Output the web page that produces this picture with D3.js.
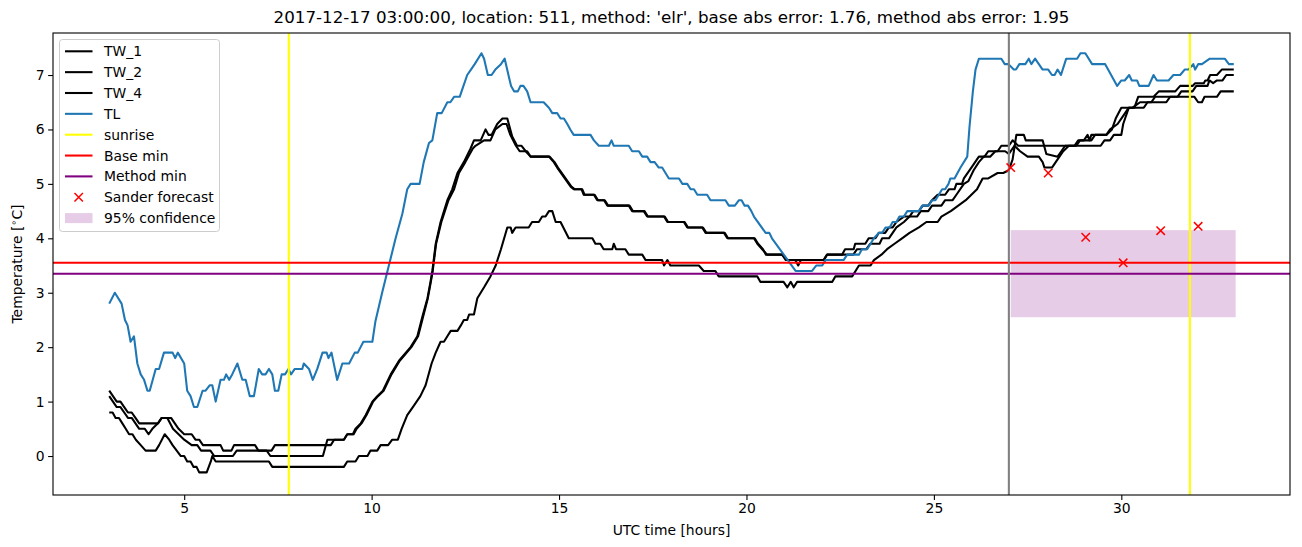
<!DOCTYPE html>
<html><head><meta charset="utf-8">
<script src="https://cdn.jsdelivr.net/npm/d3@7"></script>
<style>body{margin:0;background:#fff}svg{display:block}text{font-family:"DejaVu Sans",sans-serif;fill:#000}</style>
</head><body><svg id="c" width="1302" height="547"></svg>
<script>
const titleText = "2017-12-17 03:00:00, location: 511, method: 'elr', base abs error: 1.76, method abs error: 1.95";
const xTicks = [5,10,15,20,25,30];
const yTicks = [0,1,2,3,4,5,6,7];
const TW_1 = [[3.0,1.2],[3.1,1.1],[3.2,1.0],[3.3,1.0],[3.4,0.9],[3.5,0.8],[3.6,0.8],[3.7,0.7],[3.8,0.6],[4.3,0.6],[4.4,0.7],[4.65,0.7],[4.75,0.6],[4.85,0.5],[5.0,0.4],[5.2,0.4],[5.3,0.3],[5.4,0.3],[5.5,0.2],[5.97,0.2],[6.04,0.1],[6.26,0.1],[6.33,0.2],[6.89,0.2],[6.98,0.1],[7.33,0.1],[7.42,0.2],[8.91,0.2],[9.0,0.3],[9.26,0.3],[9.35,0.4],[9.5,0.4],[9.57,0.5],[9.71,0.6],[9.84,0.75],[10.02,1.0],[10.15,1.1],[10.3,1.2],[10.51,1.5],[10.73,1.75],[11.04,2.0],[11.22,2.2],[11.35,2.55],[11.49,2.9],[11.57,3.2],[11.62,3.4],[11.71,3.9],[11.84,4.3],[12.02,4.7],[12.15,4.9],[12.29,5.2],[12.46,5.4],[12.64,5.65],[12.73,5.8],[12.91,5.8],[13.04,6.0],[13.12,5.9],[13.2,5.9],[13.35,6.1],[13.49,6.2],[13.62,6.2],[13.75,5.87],[13.88,5.7],[14.0,5.7],[14.11,5.6],[14.24,5.5],[14.73,5.5],[14.86,5.4],[14.95,5.3],[15.31,4.95],[15.4,4.9],[15.6,4.9],[15.66,4.8],[15.93,4.8],[16.02,4.7],[16.2,4.7],[16.29,4.6],[16.86,4.6],[16.95,4.5],[17.26,4.5],[17.35,4.4],[17.8,4.4],[17.89,4.3],[18.33,4.3],[18.42,4.2],[18.82,4.2],[18.91,4.1],[19.4,4.1],[19.49,4.0],[20.2,4.0],[20.29,3.9],[20.42,3.8],[20.55,3.7],[20.95,3.7],[21.09,3.6],[22.06,3.6],[22.15,3.7],[22.55,3.7],[22.63,3.8],[22.86,3.8],[22.9,3.9],[23.17,3.9],[23.26,4.0],[23.44,4.0],[23.53,4.1],[23.7,4.1],[23.8,4.2],[23.9,4.2],[24.0,4.3],[24.2,4.4],[24.35,4.4],[24.45,4.5],[24.6,4.5],[24.7,4.6],[24.85,4.6],[24.95,4.7],[25.1,4.8],[25.3,4.8],[25.4,4.9],[25.55,4.9],[25.6,5.0],[25.75,5.0],[25.8,5.1],[26.0,5.3],[26.1,5.4],[26.2,5.5],[26.35,5.5],[26.45,5.6],[26.7,5.6],[26.8,5.7],[27.0,5.7],[27.1,5.8],[27.25,5.7],[29.45,5.7],[29.55,5.8],[29.7,5.8],[29.8,5.9],[30.0,5.9],[30.05,6.1],[30.2,6.4],[30.35,6.4],[30.45,6.6],[30.86,6.6],[31.0,6.7],[31.44,6.7],[31.57,6.8],[31.9,6.8],[31.97,6.85],[32.2,6.85],[32.24,6.9],[32.3,6.9],[32.37,7.0],[32.55,7.0],[32.68,7.1],[33.0,7.1]];
const TW_2 = [[3.0,1.1],[3.1,1.0],[3.2,0.9],[3.3,0.9],[3.4,0.8],[3.5,0.7],[3.6,0.7],[3.7,0.6],[3.8,0.5],[3.95,0.5],[4.05,0.4],[4.15,0.5],[4.3,0.6],[4.4,0.7],[4.55,0.7],[4.7,0.5],[4.85,0.4],[5.0,0.3],[5.2,0.2],[5.35,0.2],[5.45,0.1],[5.7,0.1],[5.8,0.0],[6.3,0.0],[6.4,0.1],[7.2,0.1],[7.3,0.0],[8.7,0.0],[8.82,0.3],[9.26,0.3],[9.35,0.4],[9.52,0.4],[9.6,0.5],[9.73,0.6],[9.86,0.75],[10.04,1.0],[10.17,1.1],[10.32,1.2],[10.53,1.5],[10.75,1.75],[11.06,2.0],[11.24,2.2],[11.37,2.55],[11.5,2.9],[11.58,3.2],[11.63,3.4],[11.72,3.9],[11.86,4.3],[12.05,4.7],[12.2,4.9],[12.33,5.2],[12.5,5.4],[12.7,5.65],[12.77,5.7],[13.0,5.8],[13.17,5.8],[13.3,6.0],[13.49,6.1],[13.6,6.1],[13.7,5.9],[13.85,5.7],[13.95,5.6],[14.15,5.6],[14.24,5.5],[14.75,5.5],[14.88,5.4],[14.97,5.3],[15.33,4.95],[15.42,4.9],[15.62,4.9],[15.68,4.8],[15.95,4.8],[16.04,4.7],[16.22,4.7],[16.31,4.6],[16.88,4.6],[16.97,4.5],[17.28,4.5],[17.37,4.4],[17.82,4.4],[17.91,4.3],[18.35,4.3],[18.44,4.2],[18.84,4.2],[18.93,4.1],[19.42,4.1],[19.51,4.0],[20.22,4.0],[20.31,3.9],[20.44,3.8],[20.52,3.7],[20.95,3.7],[21.05,3.6],[21.3,3.6],[21.38,3.5],[21.45,3.6],[22.06,3.6],[22.15,3.7],[22.85,3.7],[22.95,3.8],[23.2,3.8],[23.3,3.9],[23.55,3.9],[23.62,4.0],[23.8,4.0],[23.9,4.1],[24.0,4.2],[24.2,4.3],[24.35,4.4],[24.55,4.4],[24.65,4.5],[24.85,4.5],[24.95,4.6],[25.2,4.6],[25.3,4.7],[25.5,4.7],[25.6,4.8],[25.8,5.0],[25.92,5.05],[26.06,5.25],[26.2,5.4],[26.33,5.5],[26.5,5.5],[26.64,5.6],[26.9,5.6],[27.0,5.55],[27.15,5.7],[27.3,5.6],[27.5,5.5],[27.8,5.5],[27.9,5.4],[27.95,5.3],[28.15,5.3],[28.25,5.4],[28.35,5.5],[28.45,5.6],[28.6,5.7],[28.8,5.7],[28.9,5.8],[29.2,5.8],[29.3,5.9],[29.6,5.9],[29.7,6.0],[29.9,6.1],[30.0,6.2],[30.1,6.3],[30.2,6.4],[30.6,6.4],[30.7,6.5],[31.2,6.5],[31.3,6.6],[31.5,6.6],[31.6,6.7],[31.9,6.7],[32.0,6.8],[32.3,6.8],[32.35,6.9],[32.45,6.85],[32.55,6.9],[32.7,6.9],[32.8,7.0],[33.0,7.0]];
const TW_4 = [[3.0,0.8],[3.09,0.8],[3.17,0.7],[3.26,0.7],[3.35,0.6],[3.44,0.5],[3.53,0.4],[3.62,0.4],[3.71,0.3],[3.84,0.2],[3.97,0.1],[4.24,0.1],[4.33,0.2],[4.48,0.4],[4.6,0.3],[4.69,0.2],[4.8,0.1],[4.91,0.0],[5.0,0.0],[5.08,-0.1],[5.17,-0.1],[5.25,-0.2],[5.33,-0.2],[5.4,-0.3],[5.6,-0.3],[5.71,-0.1],[5.75,0.0],[5.84,-0.1],[7.26,-0.1],[7.35,-0.2],[9.26,-0.2],[9.35,-0.1],[9.57,-0.1],[9.66,0.0],[9.89,0.0],[9.97,0.1],[10.15,0.1],[10.24,0.2],[10.44,0.2],[10.55,0.3],[10.7,0.3],[10.8,0.5],[10.95,0.75],[11.1,0.9],[11.3,1.1],[11.44,1.3],[11.6,1.7],[11.71,1.9],[11.84,2.1],[11.93,2.1],[12.02,2.2],[12.11,2.3],[12.29,2.3],[12.38,2.4],[12.46,2.5],[12.55,2.5],[12.6,2.6],[12.73,2.6],[12.82,2.9],[13.0,3.1],[13.17,3.3],[13.31,3.5],[13.45,3.8],[13.62,4.2],[13.71,4.2],[13.75,4.1],[13.84,4.2],[14.19,4.2],[14.28,4.3],[14.46,4.3],[14.55,4.4],[14.64,4.4],[14.73,4.5],[14.82,4.5],[14.91,4.3],[15.04,4.3],[15.26,4.0],[15.89,4.0],[15.97,3.9],[16.1,3.9],[16.19,3.8],[16.42,3.8],[16.46,3.9],[16.52,3.8],[16.77,3.8],[16.86,3.7],[17.22,3.7],[17.31,3.6],[17.75,3.6],[17.8,3.5],[17.89,3.6],[17.97,3.5],[18.73,3.5],[18.86,3.4],[19.17,3.4],[19.26,3.3],[20.29,3.3],[20.37,3.2],[20.99,3.2],[21.09,3.1],[21.18,3.2],[21.26,3.1],[21.35,3.2],[22.29,3.2],[22.37,3.3],[22.82,3.3],[22.91,3.4],[23.0,3.5],[23.31,3.5],[23.4,3.6],[23.6,3.7],[23.75,3.8],[23.95,3.9],[24.15,4.0],[24.35,4.1],[24.6,4.2],[24.8,4.3],[25.1,4.3],[25.2,4.4],[25.45,4.5],[25.65,4.6],[25.85,4.7],[26.0,4.8],[26.15,4.9],[26.3,5.1],[26.45,5.1],[26.7,5.2],[26.85,5.2],[27.0,5.25],[27.1,5.45],[27.2,5.9],[27.4,5.9],[27.45,5.8],[27.9,5.8],[28.0,5.55],[28.3,5.5],[28.4,5.6],[28.5,5.7],[28.75,5.7],[28.85,5.8],[29.0,5.8],[29.1,5.9],[29.15,5.8],[29.2,5.9],[29.6,5.9],[29.75,6.0],[29.85,6.2],[30.0,6.4],[30.3,6.4],[30.5,6.5],[30.8,6.5],[30.9,6.6],[31.95,6.6],[32.05,6.5],[32.15,6.5],[32.22,6.6],[32.55,6.6],[32.65,6.7],[33.0,6.7]];
const TL = [[3.0,2.8],[3.15,3.0],[3.33,2.8],[3.42,2.5],[3.49,2.4],[3.57,2.1],[3.66,2.2],[3.75,1.7],[3.84,1.5],[3.93,1.4],[4.02,1.2],[4.08,1.2],[4.24,1.6],[4.33,1.6],[4.46,1.9],[4.69,1.9],[4.76,1.8],[4.83,1.9],[5.0,1.7],[5.08,1.2],[5.17,1.1],[5.26,0.9],[5.35,0.9],[5.49,1.2],[5.57,1.2],[5.68,1.3],[5.75,1.3],[5.84,1.0],[5.97,1.4],[6.06,1.4],[6.12,1.5],[6.2,1.4],[6.28,1.5],[6.42,1.7],[6.55,1.4],[6.64,1.4],[6.75,1.1],[6.86,1.1],[6.99,1.6],[7.08,1.5],[7.17,1.5],[7.26,1.6],[7.35,1.5],[7.42,1.2],[7.51,1.2],[7.6,1.5],[7.69,1.5],[7.78,1.6],[7.85,1.5],[7.95,1.6],[8.15,1.6],[8.19,1.7],[8.33,1.6],[8.43,1.4],[8.55,1.6],[8.69,1.9],[8.8,1.9],[8.85,1.8],[8.93,1.9],[9.08,1.4],[9.22,1.7],[9.4,1.7],[9.55,1.9],[9.63,1.9],[9.78,2.1],[10.02,2.1],[10.1,2.47],[10.28,3.0],[10.46,3.5],[10.64,4.0],[10.82,4.45],[10.95,4.9],[11.04,5.0],[11.28,5.0],[11.39,5.4],[11.53,5.75],[11.62,5.8],[11.75,6.3],[11.87,6.3],[12.02,6.5],[12.1,6.5],[12.2,6.6],[12.35,6.6],[12.45,6.8],[12.55,7.0],[12.65,7.1],[12.75,7.2],[12.93,7.4],[13.0,7.3],[13.1,7.0],[13.2,7.0],[13.3,7.1],[13.45,7.2],[13.55,7.3],[13.65,7.0],[13.72,6.8],[13.8,6.7],[13.9,6.7],[13.97,6.8],[14.05,6.8],[14.15,6.7],[14.24,6.5],[14.59,6.5],[14.73,6.4],[14.82,6.3],[14.95,6.3],[15.04,6.2],[15.13,6.2],[15.22,6.1],[15.3,6.0],[15.39,5.9],[15.84,5.9],[15.93,5.8],[16.06,5.7],[16.33,5.7],[16.4,5.8],[16.46,5.7],[16.86,5.7],[16.95,5.6],[17.13,5.6],[17.22,5.5],[17.35,5.5],[17.44,5.4],[17.55,5.4],[17.66,5.3],[17.75,5.3],[17.84,5.2],[17.93,5.1],[18.2,5.1],[18.29,5.0],[18.42,5.0],[18.51,4.9],[18.6,4.9],[18.69,4.8],[18.95,4.8],[19.04,4.7],[19.44,4.7],[19.53,4.6],[19.69,4.6],[19.8,4.7],[19.87,4.7],[19.95,4.6],[20.04,4.6],[20.13,4.5],[20.2,4.4],[20.51,4.1],[20.61,4.1],[20.68,4.0],[21.31,3.4],[21.75,3.4],[21.86,3.5],[22.02,3.5],[22.11,3.6],[22.59,3.6],[22.69,3.7],[23.0,3.7],[23.08,3.8],[23.22,3.8],[23.4,4.0],[23.53,4.1],[23.62,4.1],[23.71,4.2],[23.82,4.2],[23.9,4.3],[24.0,4.3],[24.08,4.4],[24.2,4.4],[24.29,4.5],[24.6,4.5],[24.69,4.6],[24.86,4.6],[24.95,4.7],[25.04,4.7],[25.13,4.8],[25.22,4.9],[25.3,4.9],[25.39,5.0],[25.44,5.1],[25.55,5.1],[25.71,5.3],[25.89,5.5],[25.95,6.05],[26.04,6.7],[26.11,7.1],[26.2,7.3],[26.8,7.3],[26.89,7.2],[26.99,7.2],[27.13,7.1],[27.19,7.1],[27.28,7.2],[27.44,7.2],[27.53,7.3],[27.6,7.2],[27.7,7.3],[27.9,7.1],[28.05,7.1],[28.15,7.0],[28.22,7.0],[28.3,7.1],[28.39,7.0],[28.53,7.3],[28.82,7.3],[28.91,7.4],[29.04,7.4],[29.22,7.2],[29.57,7.2],[29.89,6.8],[30.0,6.9],[30.09,6.9],[30.21,7.0],[30.28,6.9],[30.42,6.9],[30.48,6.8],[30.73,6.8],[30.86,7.0],[30.95,6.9],[31.26,6.9],[31.39,7.0],[31.57,7.0],[31.69,7.1],[31.79,7.1],[31.92,7.2],[31.97,7.1],[32.05,7.2],[32.15,7.2],[32.36,7.3],[32.76,7.3],[32.87,7.2],[33.0,7.2]];
const sunriseHours = [7.79, 31.83];
const forecastStart = [27.0];
const baseMin = [3.55];
const methodMin = [3.35];
const forecastHours = [27.05, 28.05, 29.05, 30.05, 31.05, 32.05];
const forecastValues = [5.3, 5.2, 4.02, 3.55, 4.14, 4.22];
const confHours = [27.05, 33.05];
const confRange = [2.55, 4.15];
const legendLabels = ["TW_1","TW_2","TW_4","TL","sunrise","Base min","Method min","Sander forecast","95% confidence"];

const LW = 2.08;
const svg = d3.select("#c");
const L = 53, R = 1290, T = 33, B = 495;
const x = d3.scaleLinear().domain([1.5, 34.5]).range([L, R]);
const y = d3.scaleLinear().domain([-0.716, 7.772]).range([B, T]);

svg.append("defs").append("clipPath").attr("id","clip").append("rect")
  .attr("x",L).attr("y",T).attr("width",R-L).attr("height",B-T);
const g = svg.append("g").attr("clip-path","url(#clip)");

g.append("rect").attr("x",x(confHours[0])).attr("y",y(confRange[1]))
  .attr("width",x(confHours[1])-x(confHours[0])).attr("height",y(confRange[0])-y(confRange[1]))
  .attr("fill","purple").attr("fill-opacity",0.2);

const line = d3.line().x(d=>x(d[0])).y(d=>y(d[1]));
[[TW_1,"#000"],[TW_2,"#000"],[TW_4,"#000"],[TL,"#1f77b4"]].forEach(([d,c])=>{
  g.append("path").datum(d).attr("d",line).attr("fill","none").attr("stroke",c)
   .attr("stroke-width",LW).attr("stroke-linejoin","round").attr("stroke-linecap","butt");
});
sunriseHours.forEach(h=>g.append("line").attr("x1",x(h)).attr("x2",x(h)).attr("y1",T).attr("y2",B)
  .attr("stroke","#ffff00").attr("stroke-width",LW));
g.append("line").attr("x1",L).attr("x2",R).attr("y1",y(baseMin[0])).attr("y2",y(baseMin[0]))
  .attr("stroke","#ff0000").attr("stroke-width",LW);
g.append("line").attr("x1",L).attr("x2",R).attr("y1",y(methodMin[0])).attr("y2",y(methodMin[0]))
  .attr("stroke","#800080").attr("stroke-width",LW);
g.append("line").attr("x1",x(forecastStart[0])).attr("x2",x(forecastStart[0])).attr("y1",T).attr("y2",B)
  .attr("stroke","#808080").attr("stroke-width",LW);
forecastHours.forEach((h,i)=>{
  const cx=x(h), cy=y(forecastValues[i]), s=4.2;
  g.append("path").attr("d",`M${cx-s},${cy-s}L${cx+s},${cy+s}M${cx-s},${cy+s}L${cx+s},${cy-s}`)
   .attr("stroke","#ff0000").attr("stroke-width",1.5).attr("fill","none");
});

const xa = svg.append("g").attr("transform",`translate(0,${B})`)
  .call(d3.axisBottom(x).tickValues(xTicks).tickSize(4.9).tickPadding(3.5).tickFormat(d3.format("d")));
const ya = svg.append("g").attr("transform",`translate(${L},0)`)
  .call(d3.axisLeft(y).tickValues(yTicks).tickSize(4.9).tickPadding(3.5).tickFormat(d3.format("d")));
[xa,ya].forEach(a=>{a.select(".domain").remove();a.selectAll("line").attr("stroke","#000").attr("stroke-width",1.1);
  a.selectAll("text").attr("font-size","13.9px").attr("font-family","DejaVu Sans");});
svg.append("rect").attr("x",L).attr("y",T).attr("width",R-L).attr("height",B-T)
  .attr("fill","none").attr("stroke","#000").attr("stroke-width",1.1);

svg.append("text").attr("x",(L+R)/2).attr("y",23).attr("text-anchor","middle")
  .attr("font-size","16.7px").text(titleText);
svg.append("text").attr("x",(L+R)/2).attr("y",535).attr("text-anchor","middle")
  .attr("font-size","13.9px").text("UTC time [hours]");
const yl = svg.append("text").attr("transform",`translate(22,${(T+B)/2}) rotate(-90)`)
  .attr("text-anchor","middle").attr("font-size","13.9px");
yl.append("tspan").text("Temperature [");
yl.append("tspan").attr("font-size","9.7px").attr("dy","-5").text("∘");
yl.append("tspan").attr("dy","5").text("C]");

const lg = svg.append("g");
lg.append("rect").attr("x",59.5).attr("y",39.5).attr("width",160).attr("height",192).attr("rx",3)
  .attr("fill","#fff").attr("fill-opacity",0.8).attr("stroke","#ccc").attr("stroke-width",1);
const legendStyles = [["line","#000"],["line","#000"],["line","#000"],["line","#1f77b4"],["line","#ffff00"],["line","#ff0000"],["line","#800080"],["x","#ff0000"],["patch","purple"]];
legendLabels.forEach((lab,i)=>{
  const cy = 51.3 + i*20.85;
  const [kind,col] = legendStyles[i];
  if(kind==="line") lg.append("line").attr("x1",65).attr("x2",92.5).attr("y1",cy).attr("y2",cy).attr("stroke",col).attr("stroke-width",LW);
  else if(kind==="x"){const cx=78.7,s=4.2;lg.append("path").attr("d",`M${cx-s},${cy-s}L${cx+s},${cy+s}M${cx-s},${cy+s}L${cx+s},${cy-s}`).attr("stroke",col).attr("stroke-width",1.5);}
  else lg.append("rect").attr("x",65).attr("y",cy-5).attr("width",27.5).attr("height",10).attr("fill",col).attr("fill-opacity",0.2);
  lg.append("text").attr("x",104).attr("y",cy+5).attr("font-size","13.9px").text(lab);
});
</script></body></html>
